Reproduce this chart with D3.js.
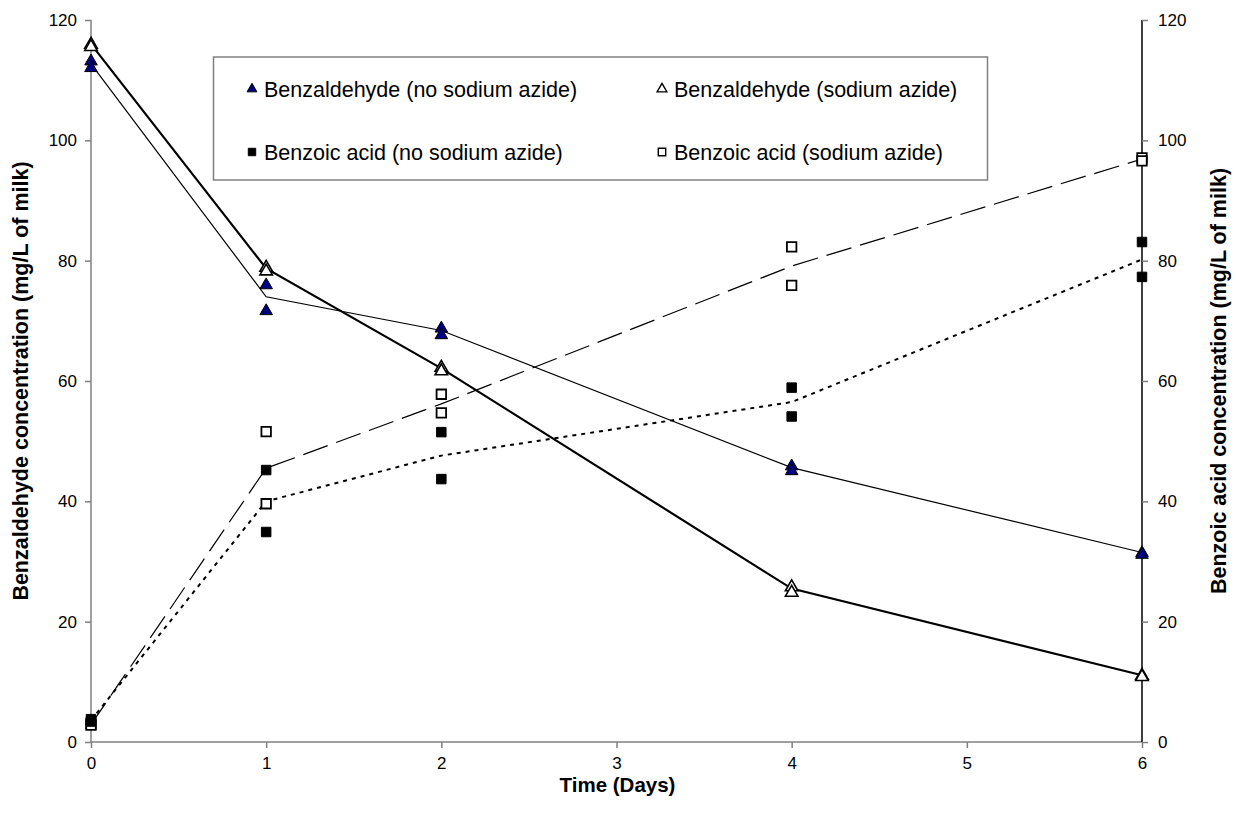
<!DOCTYPE html>
<html>
<head>
<meta charset="utf-8">
<script src="https://cdn.jsdelivr.net/npm/d3@7"></script>
<style>
  body { margin: 0; background: #fff; }
  svg { display: block; font-family: "Liberation Sans", Arial, sans-serif; }
</style>
</head>
<body>
<svg id="chart" width="1236" height="823"></svg>
<script>
// Sampling days
const days = [0, 1, 2, 4, 6];

// Benzaldehyde replicates (left axis, mg/L)
const benzNoAzideA = [113.3, 76.1, 68.9, 46.0, 31.6];
const benzNoAzideB = [112.2, 71.8, 67.8, 45.2, 31.3];
const benzAzideA   = [116.1, 79.0, 62.4, 25.9, 11.2];
const benzAzideB   = [115.7, 78.4, 61.8, 25.0, 11.0];

// Benzoic acid replicates (right axis, mg/L)
const acidNoAzideA = [3.8, 45.2, 51.5, 58.9, 83.1];
const acidNoAzideB = [3.4, 34.9, 43.7, 54.1, 77.3];
const acidAzideA   = [3.0, 51.6, 57.8, 82.3, 97.1];
const acidAzideB   = [2.8, 39.6, 54.7, 75.9, 96.6];

// Average curves through the replicates
const benzNoAzideLine = [112.7, 74.0, 68.4, 45.6, 31.5];
const benzAzideLine   = [116.0, 78.7, 62.1, 25.5, 11.1];
const acidNoAzideLine = [3.6, 40.0, 47.6, 56.5, 80.2];
const acidAzideLine   = [2.9, 45.5, 56.2, 79.1, 96.9];

// Axis ticks
const xTicks = [0, 1, 2, 3, 4, 5, 6];
const yTicks = [0, 20, 40, 60, 80, 100, 120];

const legendLabels = [
  "Benzaldehyde (no sodium azide)",
  "Benzaldehyde (sodium azide)",
  "Benzoic acid (no sodium azide)",
  "Benzoic acid (sodium azide)"
];

const svg = d3.select("#chart");
const plotLeft = 91, plotRight = 1142, plotTop = 20, plotBottom = 742;

const x = d3.scaleLinear().domain([0, 6]).range([plotLeft, plotRight]);
const yL = d3.scaleLinear().domain([0, 120]).range([plotBottom, plotTop]);
const yR = d3.scaleLinear().domain([0, 120]).range([plotBottom, plotTop]);

// Axes
const xAxis = svg.append("g").attr("transform", `translate(0,${plotBottom})`)
  .call(d3.axisBottom(x).tickValues(xTicks).tickSize(6).tickPadding(9).tickFormat(d3.format("d")));
const yAxisL = svg.append("g").attr("transform", `translate(${plotLeft},0)`)
  .call(d3.axisLeft(yL).tickValues(yTicks).tickSize(6).tickPadding(8).tickFormat(d3.format("d")));
const yAxisR = svg.append("g").attr("transform", `translate(${plotRight},0)`)
  .call(d3.axisRight(yR).tickValues(yTicks).tickSize(6).tickPadding(10).tickFormat(d3.format("d")));

[xAxis, yAxisL].forEach(g => {
  g.select(".domain").attr("stroke", "#808080").attr("stroke-width", 1.5);
  g.selectAll(".tick line").attr("stroke", "#808080").attr("stroke-width", 1.5);
});
yAxisR.select(".domain").attr("stroke", "#000").attr("stroke-width", 1.5);
yAxisR.selectAll(".tick line").attr("stroke", "#808080").attr("stroke-width", 1.5);
[xAxis, yAxisL, yAxisR].forEach(g => {
  g.selectAll(".tick text").attr("font-size", 17).attr("fill", "#000")
    .attr("font-family", "Liberation Sans, Arial, sans-serif");
});
// plain domain lines without outer tick stubs
xAxis.select(".domain").attr("d", `M${plotLeft},0H${plotRight}`);
yAxisL.select(".domain").attr("d", `M0,${plotTop}V${plotBottom}`);
yAxisR.select(".domain").attr("d", `M0,${plotTop}V${plotBottom}`);

// Axis titles
svg.append("text").attr("x", (plotLeft + plotRight) / 2 + 1).attr("y", 792)
  .attr("text-anchor", "middle").attr("font-size", 20.5).attr("font-weight", "bold")
  .text("Time (Days)");
svg.append("text").attr("transform", `translate(28,${(plotTop + plotBottom) / 2}) rotate(-90)`)
  .attr("text-anchor", "middle").attr("font-size", 21.5).attr("font-weight", "bold")
  .text("Benzaldehyde concentration (mg/L of milk)");
svg.append("text").attr("transform", `translate(1226,${(plotTop + plotBottom) / 2}) rotate(-90)`)
  .attr("text-anchor", "middle").attr("font-size", 21.5).attr("font-weight", "bold")
  .text("Benzoic acid concentration (mg/L of milk)");

// Curves
const lineL = vals => d3.line().x((d, i) => x(days[i])).y(d => yL(d))(vals);
const lineR = vals => d3.line().x((d, i) => x(days[i])).y(d => yR(d))(vals);

svg.append("path").attr("d", lineL(benzNoAzideLine)).attr("fill", "none")
  .attr("stroke", "#000").attr("stroke-width", 1.2);
svg.append("path").attr("d", lineL(benzAzideLine)).attr("fill", "none")
  .attr("stroke", "#000").attr("stroke-width", 2.2);
svg.append("path").attr("d", lineR(acidNoAzideLine)).attr("fill", "none")
  .attr("stroke", "#000").attr("stroke-width", 2).attr("stroke-dasharray", "4,5");
svg.append("path").attr("d", lineR(acidAzideLine)).attr("fill", "none")
  .attr("stroke", "#000").attr("stroke-width", 1.2).attr("stroke-dasharray", "26,9");

// Marker symbols
const tri = d3.symbol().type(d3.symbolTriangle).size(68)();
const sq = d3.symbol().type(d3.symbolSquare).size(90)();

function markers(vals, yScale, path, fill, stroke, sw) {
  svg.append("g").selectAll("path").data(vals).join("path")
    .attr("d", path)
    .attr("transform", (d, i) => `translate(${x(days[i])},${yScale(d) + (path === tri ? 1 : 0)})`)
    .attr("fill", fill).attr("stroke", stroke).attr("stroke-width", sw);
}

markers(acidAzideA, yR, sq, "#fff", "#000", 1.8);
markers(acidAzideB, yR, sq, "#fff", "#000", 1.8);
markers(acidNoAzideA, yR, sq, "#000", "#000", 1);
markers(acidNoAzideB, yR, sq, "#000", "#000", 1);
markers(benzAzideA, yL, tri, "#fff", "#000", 1.6);
markers(benzAzideB, yL, tri, "#fff", "#000", 1.6);
markers(benzNoAzideA, yL, tri, "#000080", "#000", 1);
markers(benzNoAzideB, yL, tri, "#000080", "#000", 1);

// Legend
const lg = svg.append("g");
lg.append("rect").attr("x", 213.5).attr("y", 57).attr("width", 774).attr("height", 123)
  .attr("fill", "#fff").attr("stroke", "#808080").attr("stroke-width", 1.5);
const legendItems = [
  { label: legendLabels[0], shape: "tri", fill: "#000080", sw: 1, cx: 252, cy: 89 },
  { label: legendLabels[1], shape: "tri", fill: "#fff", sw: 1.4, cx: 662, cy: 89 },
  { label: legendLabels[2], shape: "sq", fill: "#000", sw: 1, cx: 252, cy: 152 },
  { label: legendLabels[3], shape: "sq", fill: "#fff", sw: 1.4, cx: 662, cy: 152 }
];
legendItems.forEach(it => {
  const p = it.shape === "tri"
    ? d3.symbol().type(d3.symbolTriangle).size(42)()
    : d3.symbol().type(d3.symbolSquare).size(55)();
  lg.append("path").attr("d", p)
    .attr("transform", `translate(${it.cx},${it.cy})`)
    .attr("fill", it.fill).attr("stroke", "#000").attr("stroke-width", it.sw);
  lg.append("text").attr("x", it.cx + 12).attr("y", it.cy + 8)
    .attr("font-size", 21.5).attr("fill", "#000").text(it.label);
});
</script>
</body>
</html>
